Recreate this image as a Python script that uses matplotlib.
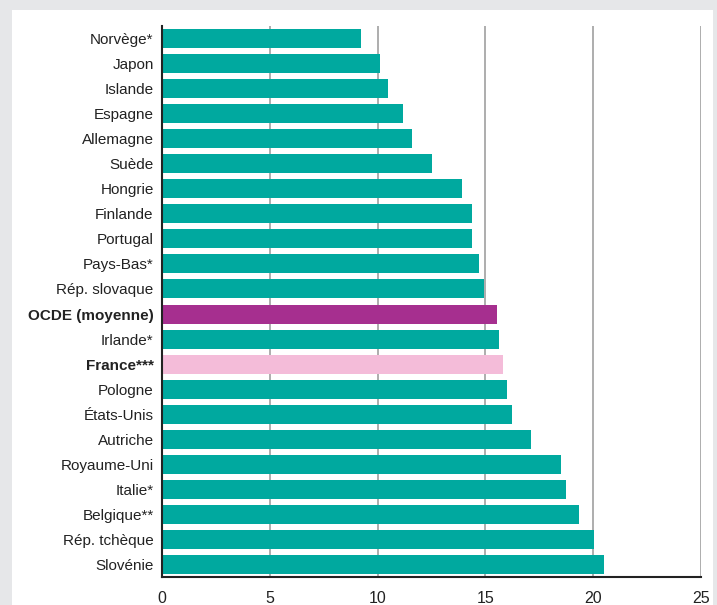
import matplotlib
matplotlib.use('Agg')
import matplotlib.pyplot as plt
from matplotlib.patches import Rectangle

pays = ['Norvège*', 'Japon', 'Islande', 'Espagne', 'Allemagne', 'Suède', 'Hongrie',
        'Finlande', 'Portugal', 'Pays-Bas*', 'Rép. slovaque', 'OCDE (moyenne)',
        'Irlande*', 'France***', 'Pologne', 'États-Unis', 'Autriche', 'Royaume-Uni',
        'Italie*', 'Belgique**', 'Rép. tchèque', 'Slovénie']
valeurs = [9.25, 10.1, 10.5, 11.2, 11.6, 12.5, 13.9, 14.4, 14.4, 14.7, 14.95, 15.55,
           15.65, 15.8, 16.0, 16.25, 17.1, 18.5, 18.75, 19.35, 20.05, 20.5]
x_ticks = [0, 5, 10, 15, 20, 25]

teal = '#00a99f'
couleurs = []
for p in pays:
    if p.startswith('OCDE'):
        couleurs.append('#a62f8f')
    elif p.startswith('France'):
        couleurs.append('#f4bcd9')
    else:
        couleurs.append(teal)

plt.rcParams['font.family'] = ['Liberation Sans', 'DejaVu Sans']

fig = plt.figure(figsize=(7.17, 6.05), dpi=100)
fig.patch.set_facecolor('#e6e7e9')
# white panel
fig.patches.append(Rectangle((12 / 717, 0), 701 / 717, 1 - 10 / 605,
                             transform=fig.transFigure, facecolor='white',
                             edgecolor='none', zorder=-1))

ax = fig.add_axes([162 / 717, 1 - 577 / 605, 539 / 717, 551 / 605])
ax.set_facecolor('white')
y = list(range(len(pays)))
ax.barh(y, valeurs, height=0.76, color=couleurs, zorder=3)
ax.set_ylim(len(pays) - 0.5, -0.5)
ax.set_xlim(0, 25)
ax.set_xticks(x_ticks)
ax.set_xticklabels([str(t) for t in x_ticks], fontsize=11.5, color='#222222')
ax.set_yticks(y)
ax.set_yticklabels(pays, fontsize=11, color='#222222', va='center_baseline')
for lab in ax.get_yticklabels():
    if lab.get_text().startswith('OCDE') or lab.get_text().startswith('France'):
        lab.set_fontweight('bold')
ax.tick_params(axis='both', length=0)
ax.tick_params(axis='y', pad=6)
ax.tick_params(axis='x', pad=10)
ax.grid(axis='x', color='#a0a0a0', linewidth=1.2, zorder=1)
for s in ['top', 'right']:
    ax.spines[s].set_visible(False)
ax.spines['left'].set_color('#222222')
ax.spines['left'].set_linewidth(1.5)
ax.spines['left'].set_zorder(4)
ax.spines['bottom'].set_color('#222222')
ax.spines['bottom'].set_linewidth(1.5)

fig.savefig('out.png', dpi=100, facecolor=fig.get_facecolor())
